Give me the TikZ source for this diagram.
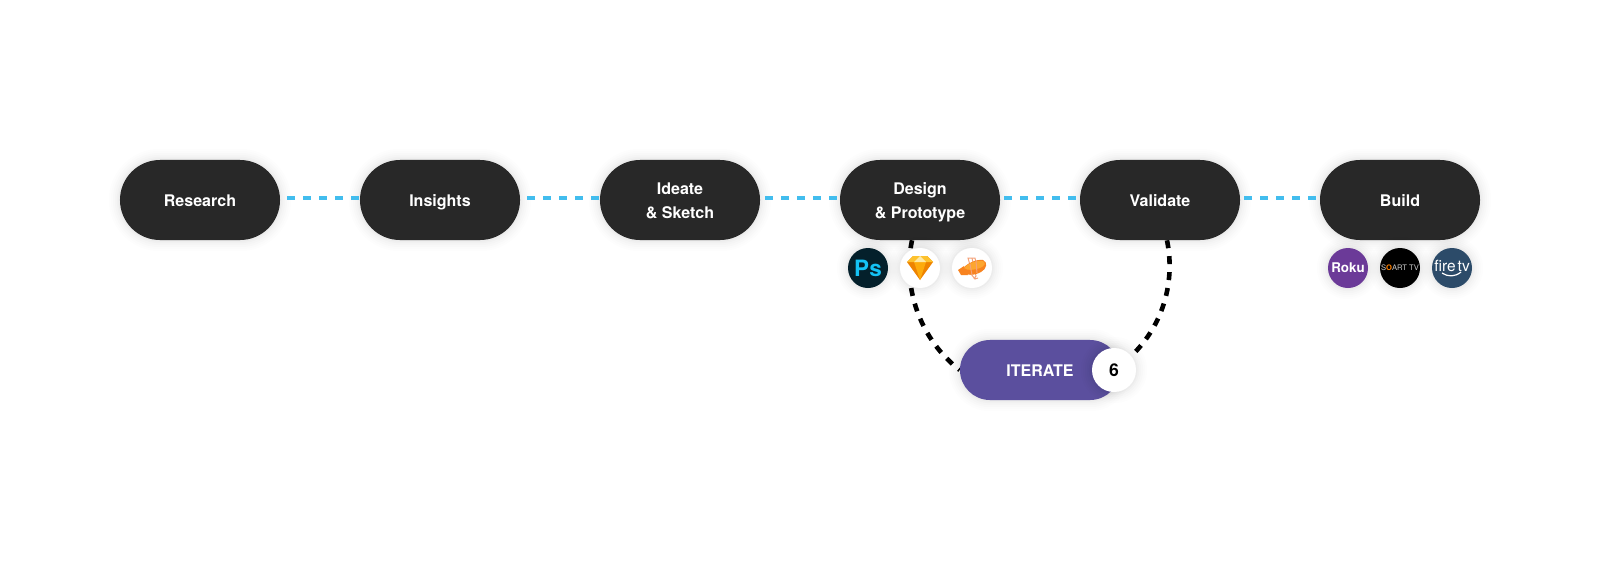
\documentclass[tikz,border=0pt]{standalone}
\usepackage{fontspec}
\setmainfont{TeX Gyre Heros}
\usetikzlibrary{shapes.misc,backgrounds}
\definecolor{pillgray}{HTML}{282828}
\definecolor{linkblue}{HTML}{42BDEE}
\definecolor{iterpurple}{HTML}{5B4F9E}
\definecolor{psdark}{HTML}{04202B}
\definecolor{psblue}{HTML}{14C2F5}
\definecolor{rokupurple}{HTML}{6B3A98}
\definecolor{firetvblue}{HTML}{2C4B69}
\definecolor{gemlight}{HTML}{FEE9A6}
\definecolor{gemmid}{HTML}{FDC22E}
\definecolor{gemcore}{HTML}{FDAB0C}
\definecolor{gemlow}{HTML}{EE8300}
\definecolor{blimp}{HTML}{FDA62F}
\definecolor{blimplow}{HTML}{F8831F}
\definecolor{blimprig}{HTML}{F4A27A}
\newcommand{\toprule}[1]{\rule{0pt}{#1}}
\tikzset{
  softshadow/.style={
    preaction={draw=black,draw opacity=.006,line width=.56cm},
    preaction={draw=black,draw opacity=.008,line width=.46cm},
    preaction={draw=black,draw opacity=.01,line width=.36cm},
    preaction={draw=black,draw opacity=.012,line width=.26cm},
    preaction={draw=black,draw opacity=.015,line width=.16cm},
    preaction={draw=black,draw opacity=.02,line width=.08cm}},
  pill/.style={rounded rectangle,softshadow,fill=pillgray,text=white,
    minimum width=4cm,minimum height=2cm,align=center,inner sep=0pt,text depth=0pt,
    font=\fontsize{11.4}{17.4}\selectfont\bfseries},
  icon/.style={circle,softshadow,fill=white,minimum size=1cm,inner sep=0pt},
  link/.style={draw=linkblue,line width=.1cm,dash pattern=on .2cm off .2cm},
  iterlink/.style={draw=black,line width=.115cm,dash pattern=on .2cm off .2cm}
}
\begin{document}
\begin{tikzpicture}[x=0.025cm,y=-0.025cm]
\useasboundingbox (0,0) rectangle (1600,560);

% steps
\foreach \name/\x/\txt in {research/200/{\toprule{9.6pt}Research},insights/440/{\toprule{9.6pt}Insights},
    ideate/680/{\toprule{9.6pt}Ideate\\\& Sketch},design/920/{\toprule{9.6pt}Design\\\& Prototype},
    validate/1160/{\toprule{9.6pt}Validate},build/1400/{\toprule{9.6pt}Build}} {
  \node [pill] (\name) at (\x,200) {\txt};
}

% iterate badge
\node [pill,fill=iterpurple,minimum height=1.5cm] (iterate) at (1040,370) {\toprule{9.6pt}ITERATE};
\node [icon,minimum size=1.1cm,text=black,font=\fontsize{12.5}{14}\selectfont\bfseries] (count) at (1114,370) {6};

% tools
\node [icon,fill=psdark,text=psblue,font=\fontsize{16}{18}\selectfont\bfseries] (ps) at (868,268) {Ps};
\node [icon] (sketch) at (920,268) {};
\fill [gemlow] (907,262) -- (913,256) -- (927,256) -- (933,262) -- (920,280) -- cycle;
\fill [gemmid] (907,262) -- (913,256) -- (927,256) -- (933,262) -- cycle;
\fill [gemcore] (914,262) -- (926,262) -- (920,280) -- cycle;
\fill [gemlight] (914,262) -- (920,256) -- (926,262) -- cycle;
\node [icon] (zeplin) at (972,268) {};
\draw [blimprig,line width=.025cm] (970,265) -- (968,258) -- (972,258) -- (976,276) -- (974,279) (976,263) -- (975,258) -- (972,258)
  (971,274) -- (975,279) -- (978,278);
\fill [blimplow] (958,270) -- (964,266) -- (968,275) -- (961,275) -- cycle;
\fill [blimplow] (962,270) .. controls (966,263) and (977,259) .. (983,260)
  .. controls (988,262) and (987,269) .. (981,272) .. controls (974,276) and (965,276) .. (962,270) -- cycle;
\fill [blimp] (964,268) .. controls (968,263) and (977,260) .. (983,261)
  .. controls (986,263) and (985,266) .. (980,268) .. controls (974,270) and (968,271) .. (964,268) -- cycle;
\draw [blimprig,line width=.025cm] (970,264) -- (972,275) (976,261) -- (977,273);

% platforms
\node [icon,fill=rokupurple,text=white,font=\fontsize{9.5}{10}\selectfont\bfseries] (roku) at (1348,268) {Roku};
\node [icon,fill=black,text=white!80!black,font=\fontsize{5.4}{6}\selectfont] (smarttv) at (1400,268) {S\textcolor{orange}{\bfseries O}ART TV};
\node [icon,fill=firetvblue,text=white,font=\fontsize{11}{11}\selectfont] (firetv) at (1452,268) {\raisebox{2.6pt}{fire\kern1.5pt tv}};
\draw [white,line width=.03cm] (1442,273) .. controls (1448,277) and (1455,277) .. (1461,272);

% connectors
\foreach \a/\b/\gap in {research/insights/7,insights/ideate/7,ideate/design/5,design/validate/4,validate/build/4} {
  \draw [link] ([shift={(\gap,-2)}]\a.east) -- ([shift={(0,-2)}]\b.west);
}
\begin{scope}[on background layer]
\draw [iterlink] ([shift={(-8,0)}]design.south) .. controls +(-10,48) and +(-39,-30) .. (iterate.west);
\draw [iterlink] ([shift={(7,0)}]validate.south) .. controls +(10,49) and +(44,-30) .. (count.center);
\end{scope}
\end{tikzpicture}
\end{document}
